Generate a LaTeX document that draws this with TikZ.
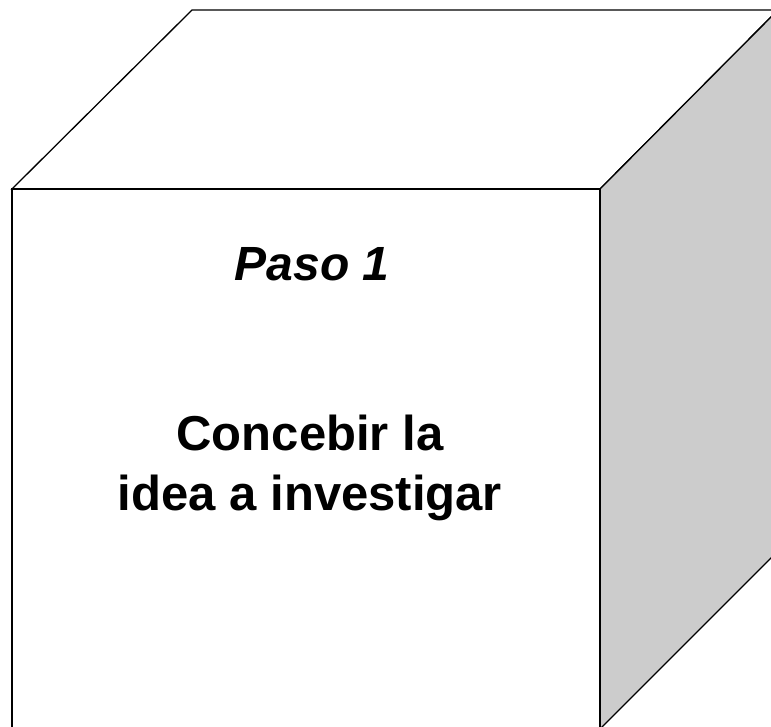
\documentclass[tikz,border=0pt]{standalone}
\usepackage{fontspec}
\setmainfont{Liberation Sans}
\definecolor{sidegray}{HTML}{CCCCCC}
\tikzset{
  edge/.style={draw=black, line width=1.3pt, line join=miter},
  steptext/.style={font=\fontsize{49}{60}\selectfont\bfseries, align=center, anchor=base}
}
\begin{document}
\begin{tikzpicture}[x=1pt, y=-1pt]
                % Frame of the picture
                \useasboundingbox (0,0) rectangle (771,727);
                \clip (0,0) rectangle (771,727);

                % Corners of the cube
                \coordinate (ftl) at (12,189);
                \coordinate (ftr) at (600,189);
                \coordinate (fbl) at (12,729);
                \coordinate (fbr) at (600,729);
                \coordinate (btl) at (192,10);
                \coordinate (btr) at (778,10);
                \coordinate (bbr) at (778,551);

                % Top face
                \draw[edge, fill=white] (ftl) -- (btl) -- (btr) -- (ftr) -- cycle;

                % Right face
                \draw[edge, fill=sidegray] (ftr) -- (btr) -- (bbr) -- (fbr) -- cycle;

                % Front face
                \draw[edge, fill=white] (ftl) -- (ftr) -- (fbr) -- (fbl) -- cycle;

                % Texts on the front face
                \node[steptext, font=\fontsize{48}{60}\selectfont\bfseries\itshape] (paso) at (312,281) {Paso 1};
                \node[steptext] (idea) at (310,510) {Concebir la\\idea a investigar};

            \end{tikzpicture}
\end{document}
